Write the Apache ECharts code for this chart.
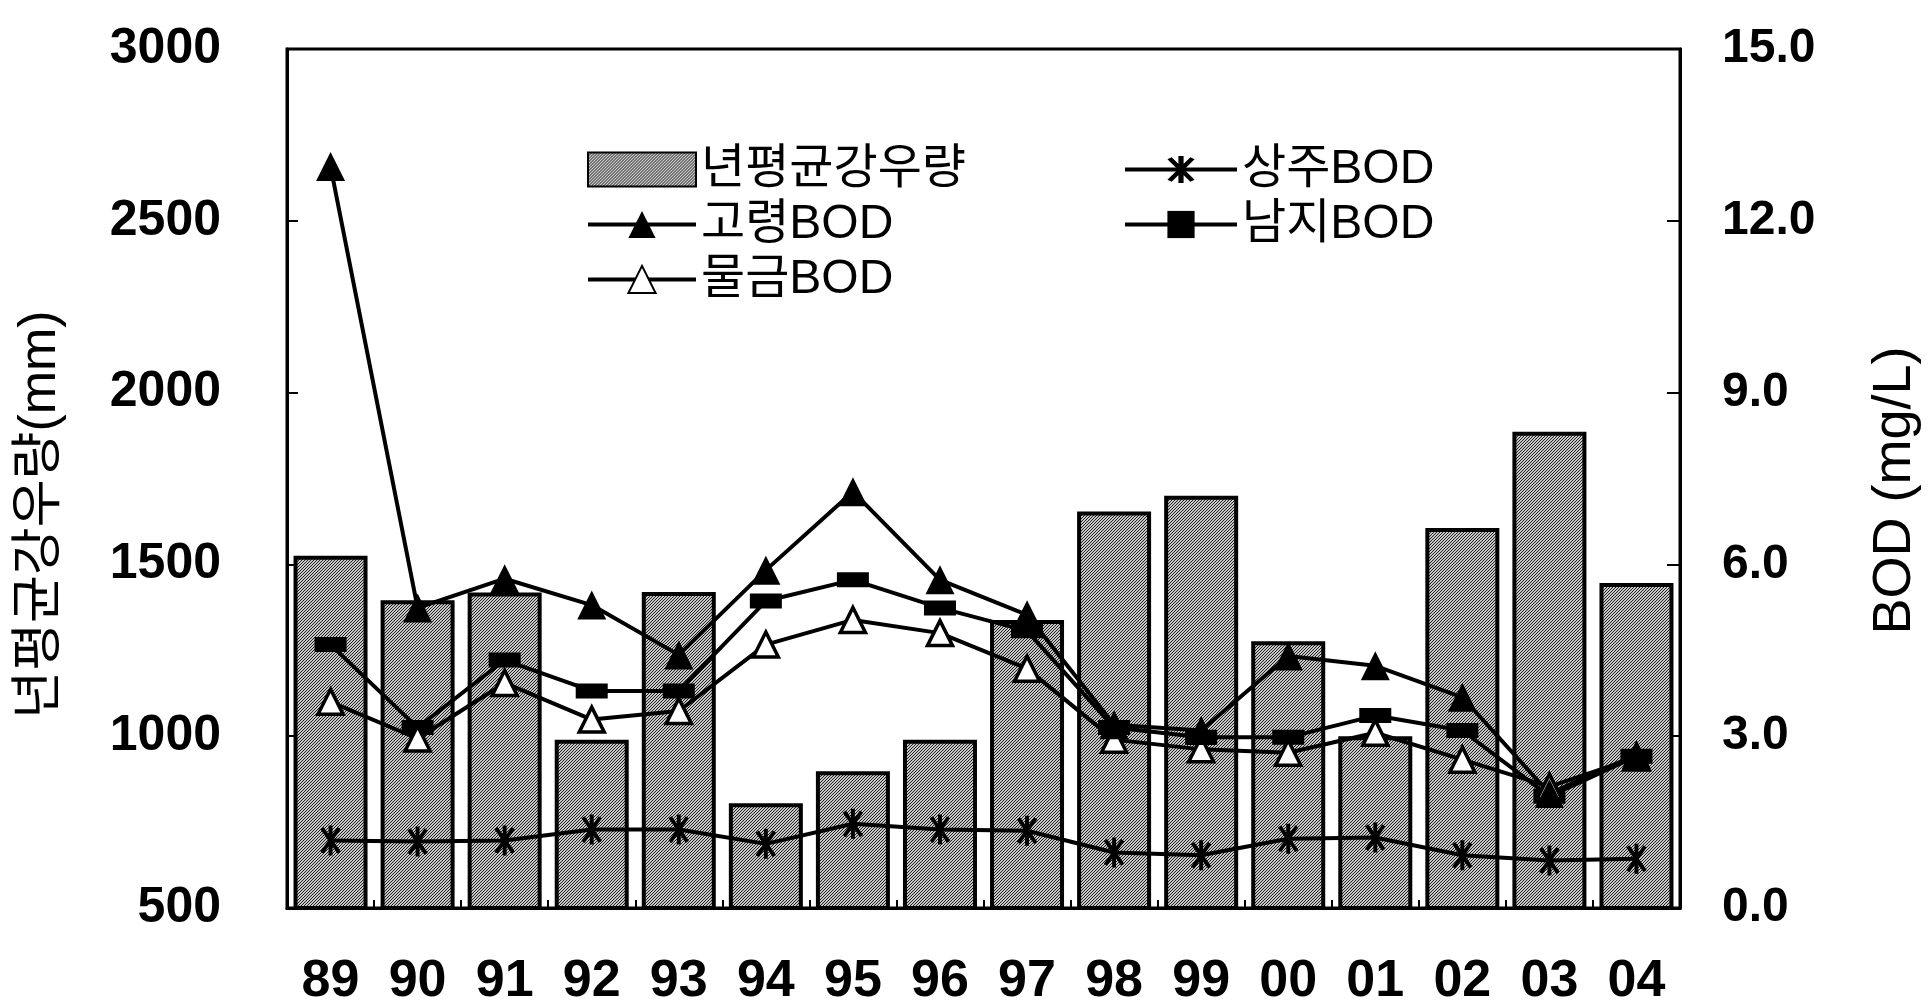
<!DOCTYPE html>
<html>
<head>
<meta charset="utf-8">
<script src="https://cdn.jsdelivr.net/npm/echarts@6/dist/echarts.min.js"></script>
<style>
html,body{margin:0;padding:0;background:#fff;}
#chart{width:1930px;height:1008px;}
</style>
</head>
<body>
<div id="chart"></div>
<script>
// ---- data ----
const years = ['89','90','91','92','93','94','95','96','97','98','99','00','01','02','03','04'];
const rainfall = [1525,1396,1418,990,1420,805,898,990,1338,1654,1700,1276,1000,1606,1886,1446];
const sangjuBOD = [1.18,1.16,1.18,1.37,1.37,1.12,1.47,1.37,1.35,0.97,0.92,1.21,1.23,0.92,0.83,0.86];
const goryeongBOD = [12.95,5.24,5.75,5.29,4.42,5.9,7.27,5.73,5.12,3.2,3.1,4.4,4.23,3.68,2.0,2.68];
const namjiBOD = [4.6,3.15,4.33,3.79,3.79,5.36,5.73,5.24,4.84,3.15,2.98,2.98,3.36,3.1,1.95,2.65];
const mulgeumBOD = [3.6,2.96,3.93,3.29,3.44,4.6,5.03,4.8,4.18,2.94,2.77,2.71,3.06,2.59,2.12,2.63];
const leftTicks = {min:500, max:3000, interval:500};
const rightTicks = {min:0, max:15, interval:3};
const names = ['년평균강우량','고령BOD','물금BOD','상주BOD','남지BOD'];

// ---- styles ----
const pc = document.createElement('canvas');
pc.width = 3; pc.height = 3;
const pctx = pc.getContext('2d');
pctx.fillStyle = '#c8c8c8'; pctx.fillRect(0,0,3,3);
pctx.fillStyle = '#202020';
pctx.fillRect(0,0,1,1); pctx.fillRect(2,1,1,1); pctx.fillRect(1,2,1,1);
const barPattern = {image: pc, repeat: 'repeat'};

function armRect(deg, L, w){
  const t = deg*Math.PI/180;
  const dx = Math.cos(t), dy = -Math.sin(t);
  const nx = Math.sin(t), ny = Math.cos(t);
  const p = [
    [L*dx + w*nx, L*dy + w*ny],
    [L*dx - w*nx, L*dy - w*ny],
    [-L*dx - w*nx, -L*dy - w*ny],
    [-L*dx + w*nx, -L*dy + w*ny]
  ];
  return 'M' + p.map(q => (q[0]+10).toFixed(2)+' '+(q[1]+10).toFixed(2)).join(' L') + ' Z';
}
const asterisk = 'path://' + [90,55,125].map(a => armRect(a,10,1.3)).join(' ');

const FONT = 'Liberation Sans, Arial, Noto Sans CJK KR, sans-serif';
const LW = 4;

const chart = echarts.init(document.getElementById('chart'));
chart.setOption({
  animation: false,
  backgroundColor: '#fff',
  grid: {left: 287, right: 244, top: 49, bottom: 97, show: true, borderColor: '#000', borderWidth: 3},
  legend: [
    {
      data: [{name: names[0], icon: 'rect'}, names[1], names[2]],
      orient: 'vertical', left: 581, top: 139,
      itemWidth: 108, itemHeight: 34, itemGap: 4,
      lineStyle: {width: LW},
      textStyle: {fontSize: 48, lineHeight: 51, color: '#000', fontFamily: FONT}
    },
    {
      data: [names[3], names[4]],
      orient: 'vertical', left: 1118, top: 139,
      itemWidth: 112, itemHeight: 34, itemGap: 4,
      lineStyle: {width: LW},
      textStyle: {fontSize: 48, lineHeight: 51, color: '#000', fontFamily: FONT}
    }
  ],
  xAxis: {
    type: 'category', data: years, boundaryGap: true,
    axisLine: {lineStyle: {color: '#000', width: 3}},
    axisTick: {show: true, inside: true, length: 8, lineStyle: {color: '#000', width: 2}},
    axisLabel: {fontSize: 52, fontWeight: 'bold', color: '#000', fontFamily: FONT, margin: 48}
  },
  yAxis: [
    {
      type: 'value', min: leftTicks.min, max: leftTicks.max, interval: leftTicks.interval,
      name: '년평균강우량(mm)', nameLocation: 'middle', nameRotate: 90, nameGap: 220,
      nameTextStyle: {fontSize: 52, color: '#000', fontFamily: FONT, padding: [0, 72, 0, 0]},
      axisLine: {show: true, lineStyle: {color: '#000', width: 3}},
      axisTick: {show: true, inside: true, length: 11, lineStyle: {color: '#000', width: 2}},
      splitLine: {show: false},
      axisLabel: {fontSize: 50, fontWeight: 'bold', color: '#000', fontFamily: FONT, margin: 66,
        formatter: v => String(v)}
    },
    {
      type: 'value', min: rightTicks.min, max: rightTicks.max, interval: rightTicks.interval,
      position: 'right',
      name: 'BOD (mg/L)', nameLocation: 'middle', nameRotate: 90, nameGap: 188,
      nameTextStyle: {fontSize: 54, color: '#000', fontFamily: FONT, padding: [0, 24, 0, 0]},
      axisLine: {show: true, lineStyle: {color: '#000', width: 3}},
      axisTick: {show: true, inside: true, length: 13, lineStyle: {color: '#000', width: 2}},
      splitLine: {show: false},
      axisLabel: {fontSize: 48, fontWeight: 'bold', color: '#000', fontFamily: FONT, margin: 42,
        formatter: v => v.toFixed(1)}
    }
  ],
  series: [
    {
      name: names[0], type: 'bar', yAxisIndex: 0, data: rainfall, barWidth: 74,
      itemStyle: {color: barPattern, borderColor: '#000', borderWidth: 4}
    },
    {
      name: names[3], type: 'line', yAxisIndex: 1, data: sangjuBOD,
      symbol: asterisk, symbolSize: 30, symbolKeepAspect: true,
      lineStyle: {color: '#000', width: LW}, itemStyle: {color: '#000'}
    },
    {
      name: names[4], type: 'line', yAxisIndex: 1, data: namjiBOD,
      symbol: 'rect', symbolSize: [32, 15],
      lineStyle: {color: '#000', width: LW}, itemStyle: {color: '#000'}
    },
    {
      name: names[2], type: 'line', yAxisIndex: 1, data: mulgeumBOD,
      symbol: 'triangle', symbolSize: 25,
      lineStyle: {color: '#000', width: LW}, itemStyle: {color: '#fff', borderColor: '#000', borderWidth: 3.5}
    },
    {
      name: names[1], type: 'line', yAxisIndex: 1, data: goryeongBOD,
      symbol: 'triangle', symbolSize: 29,
      lineStyle: {color: '#000', width: LW}, itemStyle: {color: '#000'}
    }
  ]
});
</script>
</body>
</html>
